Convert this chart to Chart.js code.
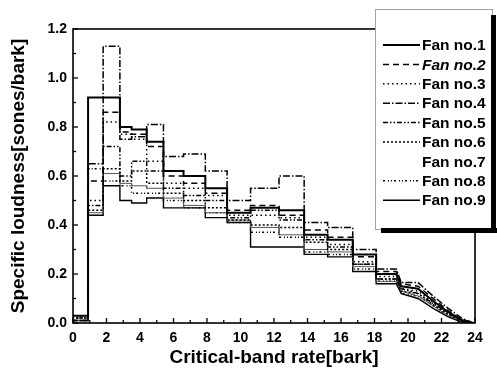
<!DOCTYPE html>
<html>
<head>
<meta charset="utf-8">
<script src="https://cdn.jsdelivr.net/npm/chart.js@4/dist/chart.umd.min.js"></script>
<style>
  html, body { margin: 0; padding: 0; background: #fff; }
  #wrap { width: 497px; height: 378px; position: relative; }
</style>
</head>
<body>
<div id="wrap"><canvas id="c"></canvas></div>
<script>
// Critical-band edges (bark) where the step values change
const bandEdges = [0, 0.9, 1.8, 2.8, 3.5, 4.4, 5.4, 6.6, 7.9, 9.2, 10.6, 12.3, 13.8, 15.2, 16.7, 18.1, 19.3];
// Decaying high-frequency tail positions (bark)
const tailX = [19.6, 20.6, 21.5, 22.4, 23.2, 23.8, 24.0];

const fanLabels = ["Fan no.1", "Fan no.2", "Fan no.3", "Fan no.4", "Fan no.5", "Fan no.6", "Fan no.7", "Fan no.8", "Fan no.9"];

// Step values per band (sones/bark)
const fan1 = [0.03, 0.92, 0.92, 0.80, 0.79, 0.74, 0.62, 0.60, 0.55, 0.45, 0.47, 0.46, 0.36, 0.34, 0.28, 0.20];
const fan2 = [0.01, 0.58, 0.86, 0.78, 0.77, 0.72, 0.60, 0.57, 0.53, 0.46, 0.48, 0.44, 0.38, 0.35, 0.27, 0.21];
const fan3 = [0.02, 0.50, 0.82, 0.77, 0.75, 0.66, 0.57, 0.55, 0.52, 0.44, 0.44, 0.43, 0.35, 0.32, 0.25, 0.19];
const fan4 = [0.01, 0.65, 1.13, 0.75, 0.76, 0.81, 0.68, 0.69, 0.62, 0.50, 0.55, 0.60, 0.41, 0.39, 0.30, 0.22];
const fan5 = [0.03, 0.48, 0.72, 0.60, 0.66, 0.62, 0.55, 0.52, 0.50, 0.43, 0.46, 0.42, 0.34, 0.31, 0.24, 0.18];
const fan6 = [0.02, 0.46, 0.63, 0.58, 0.62, 0.57, 0.53, 0.50, 0.47, 0.42, 0.40, 0.39, 0.33, 0.30, 0.24, 0.18];
const fan7 = [0.01, 0.45, 0.61, 0.57, 0.56, 0.55, 0.51, 0.48, 0.45, 0.42, 0.39, 0.36, 0.30, 0.29, 0.23, 0.17];
const fan8 = [0.02, 0.63, 0.58, 0.56, 0.53, 0.53, 0.50, 0.47, 0.45, 0.41, 0.37, 0.35, 0.29, 0.28, 0.22, 0.17];
const fan9 = [0.01, 0.44, 0.56, 0.50, 0.49, 0.51, 0.47, 0.47, 0.43, 0.41, 0.31, 0.31, 0.28, 0.27, 0.21, 0.16];

// Tail values at tailX
const tail1 = [0.15, 0.14, 0.09, 0.045, 0.012, 0.0, 0.0];
const tail2 = [0.16, 0.15, 0.10, 0.05, 0.015, 0.002, 0.0];
const tail3 = [0.14, 0.13, 0.085, 0.04, 0.01, 0.0, 0.0];
const tail4 = [0.165, 0.165, 0.11, 0.06, 0.02, 0.003, 0.0];
const tail5 = [0.14, 0.12, 0.08, 0.04, 0.01, 0.0, 0.0];
const tail6 = [0.13, 0.12, 0.075, 0.035, 0.008, 0.0, 0.0];
const tail7 = [0.13, 0.11, 0.07, 0.03, 0.006, 0.0, 0.0];
const tail8 = [0.12, 0.11, 0.07, 0.03, 0.005, 0.0, 0.0];
const tail9 = [0.12, 0.10, 0.06, 0.025, 0.004, 0.0, 0.0];

const xTicks = [0, 2, 4, 6, 8, 10, 12, 14, 16, 18, 20, 22, 24];
const yTicks = [0.0, 0.2, 0.4, 0.6, 0.8, 1.0, 1.2];

const steps = [fan1, fan2, fan3, fan4, fan5, fan6, fan7, fan8, fan9];
const tails = [tail1, tail2, tail3, tail4, tail5, tail6, tail7, tail8, tail9];

const styles = [
  { dash: [], width: 2.0, color: '#000' },
  { dash: [6, 4], width: 1.5, color: '#000' },
  { dash: [1.5, 3], width: 1.5, color: '#000' },
  { dash: [7, 2, 1.5, 2], width: 1.5, color: '#000' },
  { dash: [5, 2, 1.5, 2, 1.5, 2], width: 1.5, color: '#000' },
  { dash: [2, 2], width: 1.5, color: '#000' },
  { dash: [], width: 1.0, color: '#555', noSample: true },
  { dash: [2, 3, 1, 2, 1, 2], width: 1.5, color: '#000' },
  { dash: [], width: 1.4, color: '#000' }
];

function buildPoints(vals, tail) {
  const pts = [{ x: bandEdges[0], y: 0 }];
  for (let i = 0; i < vals.length; i++) {
    pts.push({ x: bandEdges[i], y: vals[i] });
    pts.push({ x: bandEdges[i + 1], y: vals[i] });
  }
  for (let j = 0; j < tailX.length; j++) pts.push({ x: tailX[j], y: tail[j] });
  return pts;
}

const datasets = steps.map((v, i) => ({
  label: fanLabels[i],
  data: buildPoints(v, tails[i]),
  borderColor: styles[i].color,
  borderWidth: styles[i].width,
  borderDash: styles[i].dash,
  pointRadius: 0,
  tension: 0,
  fill: false
}));

const FONT = '"Liberation Sans", Arial, sans-serif';

const framePlugin = {
  id: 'frame',
  afterDatasetsDraw(chart) {
    const { ctx, chartArea: a, scales } = chart;
    ctx.save();
    ctx.strokeStyle = '#000';
    ctx.lineWidth = 1.6;
    ctx.strokeRect(a.left, a.top, a.right - a.left, a.bottom - a.top);
    ctx.lineWidth = 1.3;
    for (let v = 0; v <= 24; v += 1) {
      const px = scales.x.getPixelForValue(v);
      const len = v % 2 === 0 ? 5 : 3;
      ctx.beginPath(); ctx.moveTo(px, a.bottom); ctx.lineTo(px, a.bottom - len); ctx.stroke();
    }
    for (let k = 0; k <= 12; k++) {
      const v = k * 0.1;
      const py = scales.y.getPixelForValue(v);
      const len = k % 2 === 0 ? 5 : 3;
      ctx.beginPath(); ctx.moveTo(a.left, py); ctx.lineTo(a.left + len, py); ctx.stroke();
    }
    ctx.restore();
  }
};

const legendPlugin = {
  id: 'boxLegend',
  afterDraw(chart) {
    const ctx = chart.ctx;
    const L = 375, T = 9, R = 492, B = 229;
    ctx.save();
    ctx.fillStyle = '#fff';
    ctx.fillRect(L, T, R - L, B - T);
    ctx.strokeStyle = '#444';
    ctx.lineWidth = 1;
    ctx.setLineDash([1, 1]);
    ctx.strokeRect(L + 0.5, T + 0.5, R - L, B - T);
    ctx.setLineDash([]);
    ctx.fillStyle = '#000';
    ctx.fillRect(R - 1, T + 6, 5, B - T - 2);
    ctx.fillRect(L + 6, B - 1, R - L + 3, 5);
    chart.data.datasets.forEach((ds, i) => {
      const y = 45 + i * 19.4;
      const st = styles[i];
      if (!st.noSample) {
        ctx.strokeStyle = '#000';
        ctx.lineWidth = st.width;
        ctx.setLineDash(st.dash);
        ctx.beginPath(); ctx.moveTo(383, y); ctx.lineTo(420, y); ctx.stroke();
        ctx.setLineDash([]);
      }
      ctx.fillStyle = '#000';
      ctx.font = (i === 1 ? 'italic ' : '') + 'bold 15.5px ' + FONT;
      ctx.textAlign = 'left';
      ctx.textBaseline = 'middle';
      ctx.fillText(ds.label, 422, y + 1);
    });
    ctx.restore();
  }
};

new Chart(document.getElementById('c'), {
  type: 'line',
  data: { datasets },
  options: {
    responsive: true,
    maintainAspectRatio: false,
    animation: false,
    layout: { padding: { left: 7, right: 22, top: 29, bottom: 9 } },
    plugins: { legend: { display: false }, tooltip: { enabled: false } },
    scales: {
      x: {
        type: 'linear', min: 0, max: 24,
        afterFit(s) { s.height = 46; },
        afterBuildTicks(s) { s.ticks = xTicks.map(v => ({ value: v })); },
        grid: { display: false, drawTicks: false },
        border: { display: false },
        ticks: { color: '#000', font: { family: FONT, size: 14, weight: 'bold' }, padding: 7, maxRotation: 0 },
        title: { display: true, text: 'Critical-band rate[bark]', color: '#000', font: { family: FONT, size: 19, weight: 'bold' }, padding: 0 }
      },
      y: {
        min: 0, max: 1.2,
        afterFit(s) { s.width = 66; },
        afterBuildTicks(s) { s.ticks = yTicks.map(v => ({ value: v })); },
        grid: { display: false, drawTicks: false },
        border: { display: false },
        ticks: { color: '#000', font: { family: FONT, size: 14, weight: 'bold' }, padding: 6, callback: v => Number(v).toFixed(1) },
        title: { display: true, text: 'Specific loudness[sones/bark]', color: '#000', font: { family: FONT, size: 19, weight: 'bold' }, padding: 0 }
      }
    }
  },
  plugins: [framePlugin, legendPlugin]
});
</script>
</body>
</html>
